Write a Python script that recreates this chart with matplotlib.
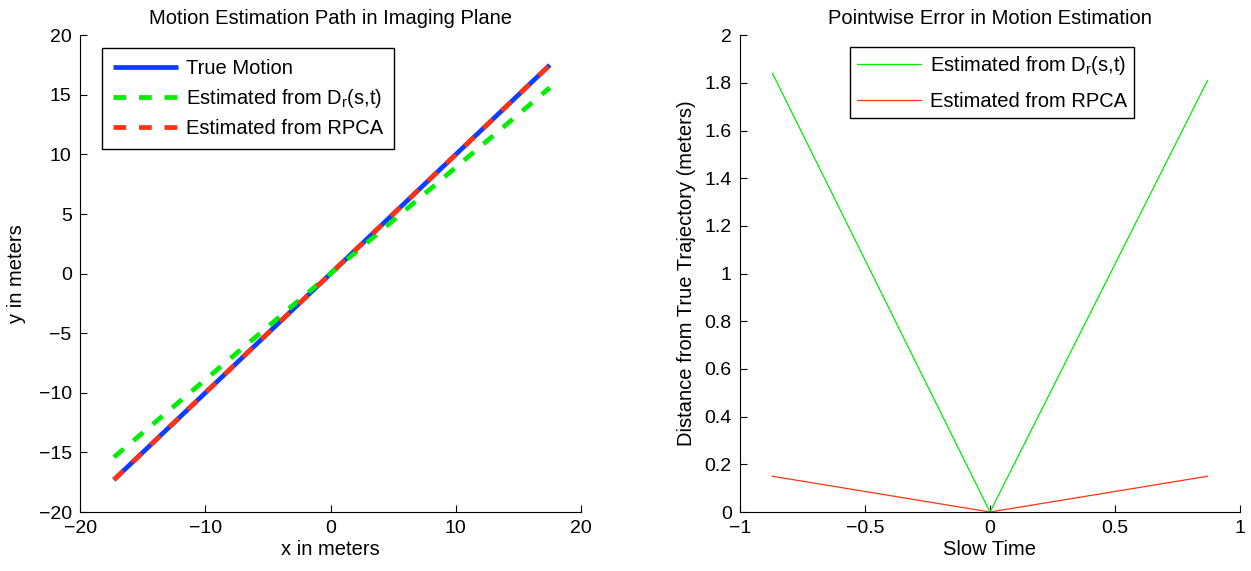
import numpy as np
import matplotlib
matplotlib.use("Agg")
import matplotlib.pyplot as plt

plt.rcParams['font.family'] = ['Liberation Sans', 'DejaVu Sans']
plt.rcParams['mathtext.fontset'] = 'custom'
plt.rcParams['mathtext.rm'] = 'Liberation Sans'
plt.rcParams['mathtext.it'] = 'Liberation Sans'
plt.rcParams['axes.unicode_minus'] = True

# path data (meters)
true_x = [-17.3, 17.5]
true_y = [-17.3, 17.5]
dr_x = [-17.3, 17.5]
dr_y = [-15.4, 15.6]
rpca_x = [-17.3, 17.5]
rpca_y = [-17.3, 17.5]

# pointwise error data
slow_time = [-0.87, 0.0, 0.87]
err_dr = [1.84, 0.0, 1.81]
err_rpca = [0.15, 0.0, 0.15]

blue = '#0f3cff'
green = '#00ee00'
red = '#ff3311'
fs = 14.5
tfs = 14

fig = plt.figure(figsize=(12.51, 5.71), dpi=100)
ax1 = fig.add_axes([0.064, 0.1033, 0.4005, 0.835])
ax2 = fig.add_axes([0.5915, 0.1033, 0.3997, 0.835])

for ax in (ax1, ax2):
    ax.spines['top'].set_visible(False)
    ax.spines['right'].set_visible(False)
    ax.tick_params(direction='in', length=5, labelsize=tfs, pad=6)

# left panel
ax1.plot(true_x, true_y, color=blue, lw=3.4, label='True Motion', solid_capstyle='butt')
ax1.plot(dr_x, dr_y, color=green, lw=3.4, dashes=(2.7, 2.7), label='Estimated from D$_{r}$(s,t)')
ax1.plot(rpca_x, rpca_y, color=red, lw=3.4, dashes=(2.7, 2.7), label='Estimated from RPCA')
ax1.set_xlim(-20, 20)
ax1.set_ylim(-20, 20)
ax1.set_xticks([-20, -10, 0, 10, 20])
ax1.set_yticks(np.arange(-20, 21, 5))
ax1.set_xlabel('x in meters', fontsize=fs, labelpad=2)
ax1.set_ylabel('y in meters', fontsize=fs, labelpad=9)
ax1.set_title('Motion Estimation Path in Imaging Plane', fontsize=fs, pad=8)
leg1 = ax1.legend(loc='upper left', bbox_to_anchor=(0.044, 0.973), borderaxespad=0,
                  fontsize=fs, fancybox=False, framealpha=1, edgecolor='black',
                  handlelength=3.2, labelspacing=0.45, handletextpad=0.4, borderpad=0.55)
leg1.get_frame().set_linewidth(1.0)

# right panel
ax2.plot(slow_time, err_dr, color=green, lw=0.9, label='Estimated from D$_{r}$(s,t)')
ax2.plot(slow_time, err_rpca, color=red, lw=0.9, label='Estimated from RPCA')
ax2.set_xlim(-1, 1)
ax2.set_ylim(0, 2)
ax2.set_xticks([-1, -0.5, 0, 0.5, 1])
ax2.set_xticklabels(['\u22121', '\u22120.5', '0', '0.5', '1'])
ax2.set_yticks(np.arange(0, 2.01, 0.2))
ax2.set_yticklabels(['0', '0.2', '0.4', '0.6', '0.8', '1', '1.2', '1.4', '1.6', '1.8', '2'])
ax2.set_xlabel('Slow Time', fontsize=fs, labelpad=2)
ax2.set_ylabel('Distance from True Trajectory (meters)', fontsize=fs, labelpad=6)
ax2.set_title('Pointwise Error in Motion Estimation', fontsize=fs, pad=8)
leg2 = ax2.legend(loc='upper left', bbox_to_anchor=(0.22, 0.975), borderaxespad=0,
                  fontsize=fs, fancybox=False, framealpha=1, edgecolor='black',
                  handlelength=3.2, labelspacing=0.75, handletextpad=0.4, borderpad=0.35)
leg2.get_frame().set_linewidth(1.0)

fig.savefig('out.png', dpi=100)
